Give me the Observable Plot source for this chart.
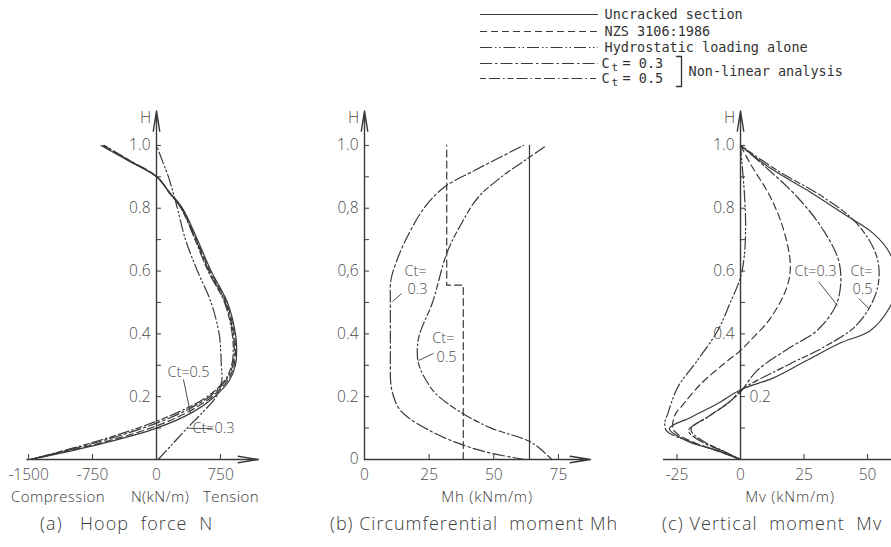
<!DOCTYPE html>
<html><head><meta charset="utf-8">
<script src="https://cdn.jsdelivr.net/npm/d3@7"></script>
<script src="https://cdn.jsdelivr.net/npm/@observablehq/plot@0.6"></script>
<style>
body{margin:0;background:#fff;}
#wrap{position:relative;width:891px;height:547px;overflow:hidden;background:#fff;font-family:"Open Sans",sans-serif;}
#wrap svg{position:absolute;left:0;top:0;}
.cap{position:absolute;white-space:pre;color:#3a3a3a;font-weight:300;line-height:1;}
</style></head><body><div id="wrap"></div>
<script>
// ---------- DATA ----------
// (a) Hoop force N (kN/m) vs H
const H_a = [0,0.05,0.10,0.15,0.20,0.25,0.30,0.35,0.40,0.50,0.60,0.70,0.80,0.85,0.90,0.95,1.00];
const Na_uncracked = [-1480,-650,0,420,680,850,925,940,926,832,640,480,305,155,0,-320,-650];
const Na_nzs       = [-1480,-700,-70,360,650,830,910,925,912,820,628,470,298,152,0,-315,-640];
const Na_ct03      = [-1480,-760,-160,300,620,810,895,912,900,808,615,460,292,150,5,-305,-625];
const Na_ct05      = [-1480,-800,-220,250,595,795,882,900,888,798,605,452,288,148,8,-300,-610];
const Na_hydro     = [20,190,360,540,700,765,760,752,735,640,480,340,245,195,140,70,0];

// (b) Circumferential moment Mh (kNm/m) vs H
const Hb_uncracked = [0,1.0];
const Mh_uncracked = [63.8,63.8];
const Hb_nzs = [0,0.555,0.555,1.0];
const Mh_nzs = [38.2,38.2,31.8,31.8];
const Hb_ct03 = [0,0.02,0.045,0.09,0.155,0.21,0.25,0.30,0.40,0.50,0.57,0.64,0.71,0.80,0.866,0.92,1.0];
const Mh_ct03 = [62,49,38.5,25.7,14,10.9,10.1,10,10,10,10.2,12.8,16.6,23,30.7,42.5,61.5];
const Hb_ct05 = [0,0.054,0.10,0.145,0.21,0.25,0.29,0.325,0.39,0.50,0.656,0.75,0.835,0.90,0.96,1.0];
const Mh_ct05 = [72.4,64.6,49,38.3,27.5,24,21.5,20.5,21,26.3,31.8,37.4,44,53,63.4,70.4];

// (c) Vertical moment Mv (kNm/m) vs H
const Hc_uncracked = [0,0.029,0.054,0.098,0.134,0.178,0.222,0.26,0.315,0.37,0.41,0.475,0.56,0.656,0.72,0.783,0.857,0.927,1.0];
const Mv_uncracked = [0,-9,-19.6,-28,-19.6,-9,0,13,26,39,51,58,62,58.8,52.2,40.4,26.3,11.8,0];
const Hc_nzs = [0,0.03,0.06,0.09,0.11,0.146,0.166,0.24,0.305,0.347,0.38,0.45,0.55,0.62,0.73,0.835,0.94,1.0];
const Mv_nzs = [0,-10,-20,-26,-26.7,-25.5,-23.5,-15.7,-6.5,0,4,11.8,18.3,19.6,17,11.8,4,0];
const Hc_hydro = [0,0.03,0.06,0.09,0.115,0.146,0.23,0.315,0.41,0.50,0.58,0.65,0.75,0.85,0.95,1.0];
const Mv_hydro = [0,-10,-21,-29,-29.8,-28.6,-24.7,-17,-9,-4,0,1.5,2,1.5,0.5,0];
const Hc_ct03 = [0,0.03,0.055,0.092,0.135,0.18,0.215,0.283,0.357,0.41,0.50,0.62,0.73,0.835,0.93,1.0];
const Mv_ct03 = [0,-8,-15,-20.4,-13,-5,0,6.5,19.6,30,38,39,32.6,22.4,10,0];
const Hc_ct05 = [0,0.03,0.055,0.095,0.14,0.185,0.22,0.305,0.357,0.43,0.54,0.643,0.75,0.835,0.92,1.0];
const Mv_ct05 = [0,-7.5,-14,-19.5,-12,-4,0,19.6,32.6,45.9,53.7,53.7,45.9,32.6,14.5,0];

// tick labels
const xTicks_a = [-1500,-750,0,750];
const xTicks_b = [0,25,50,75];
const xTicks_c = [-25,0,25,50];
const yMinorTicks = [0.1,0.2,0.3,0.4,0.5,0.6,0.7,0.8,0.9,1.0];
const yLabels_a = [[1.0,"1.0"],[0.8,"0.8"],[0.6,"0.6"],[0.4,"0.4"],[0.2,"0.2"]];
const yLabels_b = [[1.0,"1.0"],[0.8,"0,8"],[0.6,"0,6"],[0.4,"0.4"],[0.2,"0.2"],[0,"0"]];
const yLabels_c = [[1.0,"1.0"],[0.8,"0.8"],[0.6,"0.6"],[0.4,"0.4"]];
const yLabelsRight_c = [[0.2,"0.2"]];

const legendNames = ["Uncracked section","NZS 3106:1986","Hydrostatic loading alone","0.3","0.5"];
const legendKeys = ["uncracked","nzs","hydro","ct03","ct05"];

// ---------- STYLE ----------
const DASH = {uncracked:null, nzs:"7,4", hydro:"12,3,1.5,2.5,1.5,3", ct03:"12,3,2.5,3", ct05:"6,3,11,3,1.5,3"};
const INK = "#3a3a3a";
const W = 891, HT = 547, MT = 100, MB = 88;
const yDomain = [0, 1.143];
const ky = (yDomain[1]-yDomain[0])/(HT-MT-MB);
const zip = (hs, vs) => hs.map((h,i)=>({h, v: vs[i]}));
const tickFont = {fontSize: 15.5, fill: "#4a4a4a", fontWeight: 300, fontFamily: "Open Sans, sans-serif"};

function panel(cfg){
  const {xDomain, mL, mR, series, xTicks, yLabels, yLabelsRight=[], notes=[], pointers=[], axisStart, arrowX=true, clip=false} = cfg;
  const kx = (xDomain[1]-xDomain[0])/(W-mL-mR);
  const marks = [];
  for (const s of series){
    marks.push(Plot.line(s.data, {x:"v", y:"h", curve: s.linear ? "linear" : "catmull-rom", stroke: INK, strokeWidth: 1.2, strokeDasharray: DASH[s.key], clip}));
  }
  // axes
  if (arrowX) marks.push(Plot.arrow([0], {x1: axisStart, y1: 0, x2: xDomain[1], y2: 0, stroke: INK, strokeWidth: 1.4, headAngle: 18, headLength: 22}));
  else marks.push(Plot.ruleY([0], {x1: axisStart, x2: xDomain[1], stroke: INK, strokeWidth: 1.4}));
  marks.push(Plot.arrow([0], {x1: 0, y1: 0, x2: 0, y2: 1.11, stroke: INK, strokeWidth: 1.4, headAngle: 18, headLength: 22}));
  marks.push(Plot.ruleY(yMinorTicks, {y: d=>d, x1: 0, x2: 5*kx, stroke: INK, strokeWidth: 1}));
  marks.push(Plot.ruleX(xTicks.filter(d=>d!==0), {x: d=>d, y1: 0, y2: 5*ky, stroke: INK, strokeWidth: 1}));
  marks.push(Plot.text(xTicks, {x: d=>d, y: 0, dy: 16, text: d=>String(d), ...tickFont}));
  marks.push(Plot.text(yLabels, {x: 0, y: d=>d[0], dx: -6, text: d=>d[1], textAnchor: "end", ...tickFont}));
  marks.push(Plot.text(yLabelsRight, {x: 0, y: d=>d[0], dx: 9, text: d=>d[1], textAnchor: "start", ...tickFont}));
  marks.push(Plot.text(["H"], {x: 0, y: 1.088, dx: -11, text: d=>d, ...tickFont}));
  marks.push(Plot.text(notes, {x: d=>d[0], y: d=>d[1], text: d=>d[2], textAnchor: d=>d[3]||"middle", ...tickFont, fontSize: 14.5}));
  marks.push(Plot.link(pointers, {x1: d=>d[0], y1: d=>d[1], x2: d=>d[2], y2: d=>d[3], stroke: INK, strokeWidth: 0.9}));
  return Plot.plot({
    width: W, height: HT, marginLeft: mL, marginRight: mR, marginTop: MT, marginBottom: MB,
    x: {domain: xDomain, axis: null}, y: {domain: yDomain, axis: null},
    style: {background: "transparent", overflow: "visible"},
    marks
  });
}

const wrap = document.getElementById("wrap");

wrap.append(panel({
  xDomain: [-1536, 1196], mL: 25, mR: W-258, axisStart: -1520,
  series: [
    {key:"hydro", data: zip(H_a, Na_hydro)},
    {key:"ct05", data: zip(H_a, Na_ct05)},
    {key:"ct03", data: zip(H_a, Na_ct03)},
    {key:"nzs", data: zip(H_a, Na_nzs)},
    {key:"uncracked", data: zip(H_a, Na_uncracked)}
  ],
  xTicks: xTicks_a, yLabels: yLabels_a,
  notes: [[375,0.277,"Ct=0.5"],[668,0.099,"Ct=0.3","start"]],
  pointers: [[316,0.255,399,0.146],[656,0.099,375,0.099]]
}));

wrap.append(panel({
  xDomain: [0, 87.4], mL: 364, mR: W-590, axisStart: 0,
  series: [
    {key:"uncracked", data: zip(Hb_uncracked, Mh_uncracked), linear:true},
    {key:"nzs", data: zip(Hb_nzs, Mh_nzs), linear:true},
    {key:"ct03", data: zip(Hb_ct03, Mh_ct03)},
    {key:"ct05", data: zip(Hb_ct05, Mh_ct05)}
  ],
  xTicks: xTicks_b, yLabels: yLabels_b,
  notes: [[19.7,0.60,"Ct="],[20.5,0.542,"0.3"],[30.5,0.385,"Ct="],[31.7,0.326,"0.5"]],
  pointers: [[14.3,0.528,10.8,0.503],[26.7,0.338,20.9,0.315]]
}));

wrap.append(panel({
  xDomain: [-30.3, 59.4], mL: 663, mR: 0, axisStart: -30.3, arrowX: false, clip: true,
  series: [
    {key:"hydro", data: zip(Hc_hydro, Mv_hydro)},
    {key:"nzs", data: zip(Hc_nzs, Mv_nzs)},
    {key:"ct03", data: zip(Hc_ct03, Mv_ct03)},
    {key:"ct05", data: zip(Hc_ct05, Mv_ct05)},
    {key:"uncracked", data: zip(Hc_uncracked, Mv_uncracked)}
  ],
  xTicks: xTicks_c, yLabels: yLabels_c, yLabelsRight: yLabelsRight_c,
  notes: [[29.5,0.60,"Ct=0.3"],[47.6,0.60,"Ct="],[48,0.542,"0.5"]],
  pointers: [[30.7,0.566,38.2,0.49],[46.5,0.513,50.4,0.481]]
}));

// ---------- LEGEND ----------
const rowY = [14,31,47,63,78];
const legFont = {fontFamily: "DejaVu Sans Mono, monospace", fontSize: 13.5, fill: "#333"};
const legMarks = legendKeys.map((k,i)=>Plot.ruleY([rowY[i]], {x1: 480, x2: 598, stroke: INK, strokeWidth: 1.1, strokeDasharray: DASH[k]}));
legMarks.push(Plot.text(legendNames.slice(0,3), {x: 604, y: (d,i)=>rowY[i], text: d=>d, textAnchor: "start", ...legFont}));
legMarks.push(Plot.text(legendNames.slice(3), {x: 601, y: (d,i)=>rowY[i+3], text: ()=>"C", textAnchor: "start", ...legFont}));
legMarks.push(Plot.text(legendNames.slice(3), {x: 611, y: (d,i)=>rowY[i+3]+4, text: ()=>"t", textAnchor: "start", ...legFont, fontSize: 11}));
legMarks.push(Plot.text(legendNames.slice(3), {x: 622, y: (d,i)=>rowY[i+3], text: d=>"= "+d, textAnchor: "start", ...legFont}));
legMarks.push(Plot.line([[676,56],[681,56],[681,86],[676,86]], {x: d=>d[0], y: d=>d[1], stroke: "#333", strokeWidth: 1.3}));
legMarks.push(Plot.text(["Non-linear analysis"], {x: 688, y: 71, text: d=>d, textAnchor: "start", ...legFont}));
wrap.append(Plot.plot({
  width: W, height: 100, margin: 0,
  x: {type: "identity", axis: null}, y: {type: "identity", axis: null},
  style: {background: "transparent", overflow: "visible"},
  marks: legMarks
}));

// ---------- TITLES / CAPTIONS ----------
function cap(text, left, top, size, anchor, spacing){
  const d = document.createElement("div");
  d.className = "cap"; d.textContent = text;
  d.style.fontSize = size + "px"; d.style.top = top + "px";
  d.style.letterSpacing = (spacing||0) + "px";
  d.style.left = left + "px";
  if (anchor === "middle") d.style.transform = "translateX(-50%)";
  wrap.append(d);
}
cap("Compression", 58, 489, 15, "middle", 0.4);
cap("N(kN/m)", 160, 489, 15, "middle", 0.4);
cap("Tension", 231, 489, 15, "middle", 0.4);
cap("Mh (kNm/m)", 487, 489, 15, "middle", 0.8);
cap("Mv (kNm/m)", 790, 489, 15, "middle", 0.8);
cap("(a)   Hoop  force  N", 40, 514, 18, null, 1.1);
cap("(b) Circumferential  moment Mh", 330, 514, 18, null, 1.0);
cap("(c) Vertical  moment  Mv", 662, 514, 18, null, 1.1);
</script></body></html>
